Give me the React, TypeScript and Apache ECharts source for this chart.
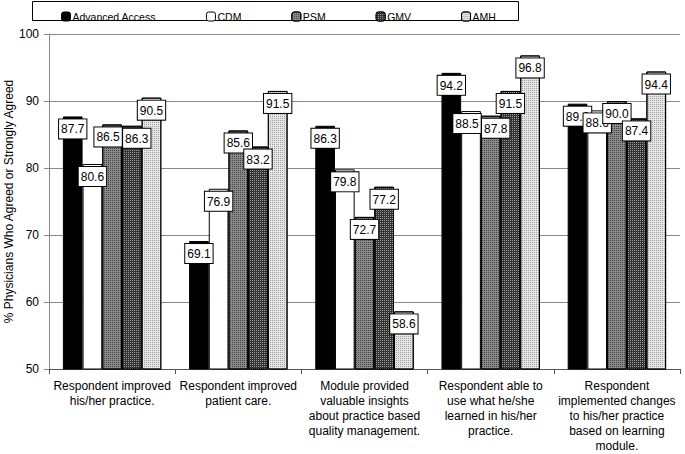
import React, { useEffect, useRef } from "react";
import * as echarts from "echarts";

const categories = [
  "Respondent improved\nhis/her practice.",
  "Respondent improved\npatient care.",
  "Module provided\nvaluable insights\nabout practice based\nquality management.",
  "Respondent able to\nuse what he/she\nlearned in his/her\npractice.",
  "Respondent\nimplemented changes\nto his/her practice\nbased on learning\nmodule.",
];
const seriesNames = ["Advanced Access", "CDM", "PSM", "GMV", "AMH"];
const advancedAccess = [87.7, 69.1, 86.3, 94.2, 89.6];
const cdm = [80.6, 76.9, 79.8, 88.5, 88.6];
const psm = [86.5, 85.6, 72.7, 87.8, 90.0];
const gmv = [86.3, 83.2, 77.2, 91.5, 87.4];
const amh = [90.5, 91.5, 58.6, 96.8, 94.4];
const yTicks = { min: 50, max: 100, interval: 10 };

export default function App() {
  const ref = useRef<HTMLDivElement>(null);
  useEffect(() => {
    document.body.style.margin = "0";
    const chart = echarts.init(ref.current!, null, { renderer: "svg" });
    const font = "'Liberation Sans', Arial, sans-serif";
    const styles = [
      { color: "#000000" },
      { color: "#ffffff" },
      {
        color: "#8a8a8a",
        decal: { symbol: "rect", symbolSize: 1, dashArrayX: [1, 1], dashArrayY: [1, 1], color: "#444444", rotation: 0 },
      },
      {
        color: "#333333",
        decal: { symbol: "rect", symbolSize: 1, dashArrayX: [1, 1], dashArrayY: [1, 1], color: "#9a9a9a", rotation: 0 },
      },
      {
        color: "#e6e6e6",
        decal: { symbol: "rect", symbolSize: 1, dashArrayX: [1, 1], dashArrayY: [1, 1], color: "#9e9e9e", rotation: 0 },
      },
    ];
    const data = [advancedAccess, cdm, psm, gmv, amh];
    // nudge labels apart horizontally when neighbouring labels sit at nearly the same height
    const layoutFor = (si: number) => (params: any) => {
      const di = params.dataIndex;
      const v = data[si][di];
      const pxPerUnit = params.rect.height / (v - yTicks.min);
      let dx = 0;
      if (si > 0 && Math.abs(data[si - 1][di] - v) * pxPerUnit < 6) dx += 5;
      if (si < data.length - 1 && Math.abs(data[si + 1][di] - v) * pxPerUnit < 6) dx -= 4;
      return { dx, hideOverlap: false };
    };
    chart.setOption({
      animation: false,
      textStyle: { fontFamily: font },
      graphic: [
        {
          type: "rect",
          shape: { x: 32.5, y: 1.5, width: 486, height: 19 },
          style: { fill: "#fff", stroke: "#000", lineWidth: 1 },
          z: 0,
        },
      ],
      legend: {
        left: 56,
        top: 6,
        itemWidth: 9,
        itemHeight: 9,
        itemGap: 50,
        textStyle: { fontSize: 10.5, color: "#000", fontFamily: font, padding: [0, 0, 0, -3] },
        data: seriesNames.map((n) => ({
          name: n,
          itemStyle: { borderColor: "#000", borderWidth: 1 },
        })),
        z: 5,
      },
      grid: { left: 49, right: 5, top: 34, bottom: 85, outerBoundsMode: "none", containLabel: false },
      xAxis: {
        type: "category",
        data: categories,
        axisLine: { lineStyle: { color: "#555", width: 1 } },
        axisTick: { show: true, length: 5, lineStyle: { color: "#555" } },
        axisLabel: { fontSize: 12, color: "#000", lineHeight: 15, interval: 0, margin: 9, fontFamily: font },
      },
      yAxis: {
        type: "value",
        min: yTicks.min,
        max: yTicks.max,
        interval: yTicks.interval,
        name: "% Physicians Who Agreed or Strongly Agreed",
        nameLocation: "middle",
        nameGap: 34,
        nameMoveOverlap: false,
        nameTextStyle: { fontSize: 12, color: "#000", fontFamily: font },
        axisLine: { show: true, lineStyle: { color: "#888" } },
        axisTick: { show: true, length: 5, lineStyle: { color: "#888" } },
        axisLabel: { fontSize: 12, color: "#000", margin: 10, fontFamily: font },
        splitLine: { lineStyle: { color: "#888", width: 1 } },
      },
      series: seriesNames.map((name, i) => ({
        name,
        type: "bar",
        data: data[i],
        barGap: "0%",
        barCategoryGap: "22%",
        itemStyle: {
          color: styles[i].color,
          decal: (styles[i] as any).decal,
          borderColor: "#000",
          borderWidth: 1,
        },
        label: {
          show: true,
          position: "insideTop",
          distance: 3,
          formatter: (p: any) => p.value.toFixed(1),
          fontSize: 12,
          color: "#000",
          fontFamily: font,
          backgroundColor: "#fff",
          borderColor: "#000",
          borderWidth: 1,
          padding: [4, 2, 3, 2],
          overflow: "none",
        },
        labelLayout: layoutFor(i),
        z: 2,
      })),
    });
    return () => chart.dispose();
  }, []);
  return <div ref={ref} style={{ width: 685, height: 454 }} />;
}
